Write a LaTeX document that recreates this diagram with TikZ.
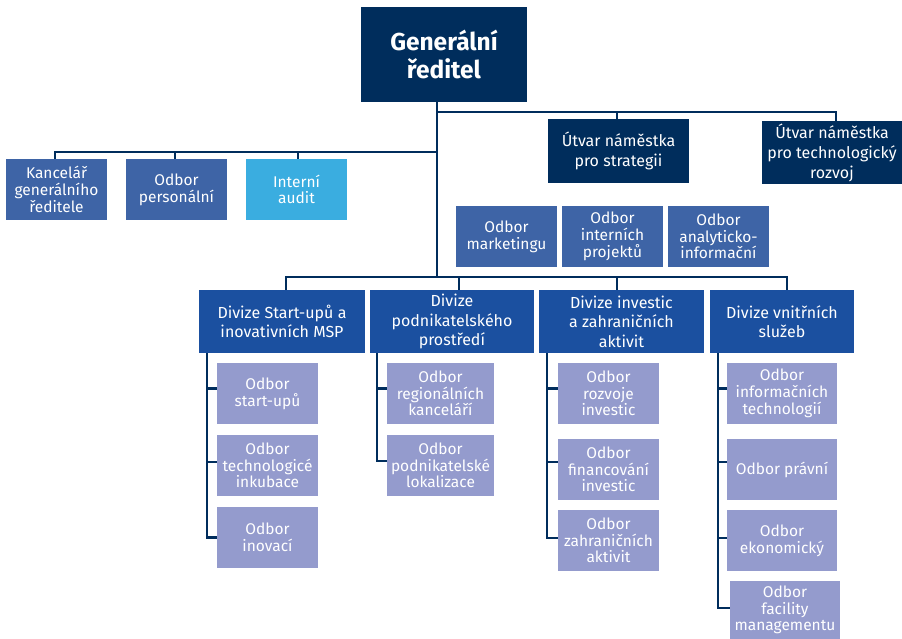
\documentclass[tikz,border=0pt]{standalone}
\usepackage{fontspec}
\setmainfont{Fira Sans}
\definecolor{navy}{RGB}{0,45,92}
\definecolor{midblue}{RGB}{62,100,166}
\definecolor{lightblue}{RGB}{58,173,224}
\definecolor{divblue}{RGB}{27,80,160}
\definecolor{lav}{RGB}{148,155,205}
\begin{document}
\begin{tikzpicture}[x=1pt,y=-1pt,
  box/.style={inner sep=0pt, outer sep=0pt, anchor=north west, align=center, text=white, font=\fontsize{15.5}{16.7}\selectfont},
  topbox/.style={box, fill=navy, font=\fontsize{16}{20}\selectfont},
  grbox/.style={box, fill=navy, font=\fontsize{24.5}{28}\selectfont\bfseries},
  staff/.style={box, fill=midblue},
  audit/.style={box, fill=lightblue},
  divbox/.style={box, fill=divblue, font=\fontsize{16}{19.5}\selectfont},
  subbox/.style={box, fill=lav},
  conn/.style={draw=navy, line width=2.5pt}]
\useasboundingbox (0,0) rectangle (902,639);

\node[grbox, minimum width=166, minimum height=95] (gr) at (361,7) {Generální\\ředitel};
\node[topbox, minimum width=141, minimum height=64] (utv1) at (548,119) {Útvar náměstka\\pro strategii};
\node[topbox, minimum width=140, minimum height=63] (utv2) at (762,121) {Útvar náměstka\\pro technologický\\rozvoj};

\node[staff, minimum width=101, minimum height=61] (kanc) at (6,159) {Kancelář\\generálního\\ředitele};
\node[staff, minimum width=101, minimum height=61] (pers) at (126,159) {Odbor\\personální};
\node[audit, minimum width=101, minimum height=61] (aud) at (246,159) {Interní\\audit};

\node[staff, minimum width=101, minimum height=61] (mark) at (456,206) {Odbor\\marketingu};
\node[staff, minimum width=101, minimum height=61] (proj) at (562,206) {Odbor\\interních\\projektů};
\node[staff, minimum width=101, minimum height=61] (anal) at (668,206) {Odbor\\analyticko-\\informační};

\node[divbox, minimum width=166, minimum height=63] (d1) at (199,290) {Divize Start-upů a\\inovativních MSP};
\node[divbox, minimum width=164, minimum height=63] (d2) at (370,290) {Divize\\podnikatelského\\prostředí};
\node[divbox, minimum width=165, minimum height=63] (d3) at (539,290) {Divize investic\\a zahraničních\\aktivit};
\node[divbox, minimum width=144, minimum height=63] (d4) at (710,290) {Divize vnitřních\\služeb};

\node[subbox, minimum width=101, minimum height=61] (s11) at (217,363) {Odbor\\start-upů};
\node[subbox, minimum width=101, minimum height=61] (s12) at (217,435) {Odbor\\technologicé\\inkubace};
\node[subbox, minimum width=101, minimum height=61] (s13) at (217,507) {Odbor\\inovací};

\node[subbox, minimum width=107, minimum height=61] (s21) at (387,363) {Odbor\\regionálních\\kanceláří};
\node[subbox, minimum width=107, minimum height=61] (s22) at (387,435) {Odbor\\podnikatelské\\lokalizace};

\node[subbox, minimum width=101, minimum height=61] (s31) at (558,363) {Odbor\\rozvoje\\investic};
\node[subbox, minimum width=101, minimum height=61] (s32) at (558,439) {Odbor\\financování\\investic};
\node[subbox, minimum width=101, minimum height=61] (s33) at (558,510) {Odbor\\zahraničních\\aktivit};

\node[subbox, minimum width=110, minimum height=61] (s41) at (727,363) {Odbor\\informačních\\technologií};
\node[subbox, minimum width=110, minimum height=61] (s42) at (727,439) {Odbor právní};
\node[subbox, minimum width=110, minimum height=61] (s43) at (727,510) {Odbor\\ekonomický};
\node[subbox, minimum width=110, minimum height=58] (s44) at (730,581) {Odbor\\facility\\managementu};

% trunk and buses
\coordinate (t) at ([xshift=-7pt]gr.south);
\coordinate (jr) at (437,112);
\coordinate (jl) at (437,152);
\coordinate (jb) at (437,277);
\draw[conn] (t) -- (jb);
\draw[conn] (jr) -| ([xshift=-1.5pt]utv1.north);
\draw[conn] (jr) -| ([xshift=4pt]utv2.north);
\draw[conn] (jl) -| ([xshift=-1.5pt]kanc.north);
\draw[conn] (jl) -| ([xshift=-1.5pt]pers.north);
\draw[conn] (jl) -| ([xshift=1.5pt]aud.north);
\draw[conn] (jb) -| ([xshift=4pt]d1.north);
\draw[conn] (jb) -| ([xshift=7pt]d2.north);
\draw[conn] (jb) -| ([xshift=-4.5pt]d3.north);
\draw[conn] (jb) -| ([xshift=5pt]d4.north);

% division sub-lines
\draw[conn] ([xshift=8pt]d1.south west) |- ([yshift=5pt]s11.west);
\draw[conn] ([xshift=8pt]d1.south west) |- ([yshift=3.5pt]s12.west);
\draw[conn] ([xshift=8pt]d1.south west) |- (s13.west);
\draw[conn] ([xshift=7pt]d2.south west) |- ([yshift=5pt]s21.west);
\draw[conn] ([xshift=7pt]d2.south west) |- ([yshift=4.5pt]s22.west);
\draw[conn] ([xshift=8pt]d3.south west) |- ([yshift=5pt]s31.west);
\draw[conn] ([xshift=8pt]d3.south west) |- ([yshift=7.5pt]s32.west);
\draw[conn] ([xshift=8pt]d3.south west) |- ([yshift=2.5pt]s33.west);
\draw[conn] ([xshift=8pt]d4.south west) |- ([yshift=5pt]s41.west);
\draw[conn] ([xshift=8pt]d4.south west) |- ([yshift=7.5pt]s42.west);
\draw[conn] ([xshift=8pt]d4.south west) |- ([yshift=2.5pt]s43.west);
\draw[conn] ([xshift=8pt]d4.south west) |- ([yshift=2pt]s44.west);
\end{tikzpicture}
\end{document}
